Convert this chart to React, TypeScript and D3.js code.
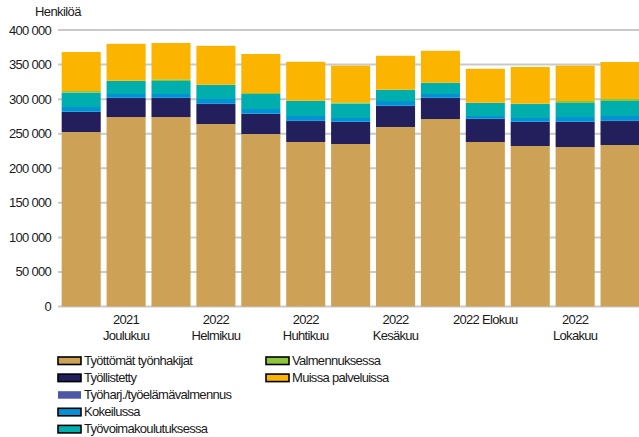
import React from "react";
import * as d3 from "d3";

const months = ["2021 Marraskuu", "2021 Joulukuu", "2022 Tammikuu", "2022 Helmikuu", "2022 Maaliskuu", "2022 Huhtikuu", "2022 Toukokuu", "2022 Kesäkuu", "2022 Heinäkuu", "2022 Elokuu", "2022 Syyskuu", "2022 Lokakuu", "2022 Marraskuu"];
const tickLabels: string[][] = [[], ["2021", "Joulukuu"], [], ["2022", "Helmikuu"], [], ["2022", "Huhtikuu"], [], ["2022", "Kesäkuu"], [], ["2022 Elokuu"], [], ["2022", "Lokakuu"], []];

const tyottomat = [252400, 274100, 274100, 264000, 249500, 238000, 235100, 259700, 271200, 238000, 232200, 230700, 233600];
const tyollistetty = [29000, 27500, 27500, 28900, 29000, 30300, 31800, 30300, 30400, 33200, 34700, 36200, 34700];
const tyoharj = [300, 300, 300, 300, 300, 300, 300, 300, 300, 300, 300, 300, 300];
const kokeilussa = [6900, 5500, 5500, 7000, 6900, 7000, 5500, 7000, 5500, 4100, 5500, 6900, 7000];
const koulutus = [20700, 18800, 18800, 20200, 21700, 21700, 20700, 15900, 15900, 18800, 20200, 20300, 21700];
const valmennus = [2400, 300, 2400, 300, 1400, 300, 2000, 300, 300, 300, 500, 2900, 2900];
const muissa = [56500, 53500, 52600, 56400, 56500, 56400, 53000, 49200, 46300, 49200, 53100, 51100, 53500];

const seriesNames = ["Työttömät työnhakijat", "Työllistetty", "Työharj./työelämävalmennus", "Kokeilussa", "Työvoimakoulutuksessa", "Valmennuksessa", "Muissa palveluissa"];
const seriesColors = ["#CDA257", "#221F5C", "#4C57A6", "#0092D5", "#00AFAD", "#8DC53F", "#FBB500"];
const seriesValues = [tyottomat, tyollistetty, tyoharj, kokeilussa, koulutus, valmennus, muissa];
const yTicks = [0, 50000, 100000, 150000, 200000, 250000, 300000, 350000, 400000];

const W = 639;
const H = 437;
const FONT = "Liberation Sans, Arial, sans-serif";

export default function App() {
  const x = d3.scaleBand<number>().domain(d3.range(months.length)).range([58.75, 642.5]).paddingInner(0.13).paddingOuter(0.065);
  const y = d3.scaleLinear().domain([0, 400000]).range([306.5, 30]);
  const rows = months.map((m, i) => {
    const o: any = { i };
    seriesNames.forEach((s, k) => (o[s] = seriesValues[k][i]));
    return o;
  });
  const stacked = d3.stack<any>().keys(seriesNames)(rows);
  const fmt = (v: number) => d3.format(",")(v).replace(/,/g, " ");

  const legendItems = seriesNames.map((s, k) => {
    const col = k < 5 ? 0 : 1;
    const row = k < 5 ? k : k - 5;
    return { s, k, x: col === 0 ? 58 : 266, y: 357 + row * 17.1 };
  });

  return (
    <svg width={W} height={H} style={{ position: "absolute", left: 0, top: 0, background: "#fff" }} fontFamily={FONT}>
      {yTicks.map((t) => (
        <line key={t} x1={58} x2={W} y1={y(t)} y2={y(t)} stroke="#c9c9c9" strokeWidth={2} />
      ))}
      {stacked.map((layer, k) => (
        <g key={k} fill={seriesColors[k]}>
          {layer.map((d, i) => (
            <rect key={i} x={x(i)} width={x.bandwidth()} y={y(d[1])} height={Math.max(0, y(d[0]) - y(d[1]))} />
          ))}
        </g>
      ))}
      {yTicks.map((t) => (
        <text key={t} x={51} y={y(t)} dy="0.35em" textAnchor="end" fontSize={13} letterSpacing={-0.7} fill="#1a1a1a">
          {fmt(t)}
        </text>
      ))}
      <text x={35} y={16} fontSize={13} letterSpacing={-0.6} fill="#1a1a1a">Henkilöä</text>
      {tickLabels.map((lines, i) =>
        lines.map((l, j) => (
          <text key={i + "-" + j} x={(x(i) as number) + x.bandwidth() / 2} y={324 + j * 16} textAnchor="middle" fontSize={13} letterSpacing={-0.7} fill="#1a1a1a">
            {l}
          </text>
        ))
      )}
      {legendItems.map((it) => (
        <g key={it.k}>
          <rect
            x={it.x}
            y={it.y}
            width={23}
            height={7.5}
            fill={seriesColors[it.k]}
            stroke={it.k === 2 ? "none" : "#000"}
            strokeWidth={1.6}
          />
          <text x={it.x + 26} y={it.y + 8} fontSize={13} letterSpacing={-0.7} fill="#1a1a1a">
            {it.s}
          </text>
        </g>
      ))}
    </svg>
  );
}
